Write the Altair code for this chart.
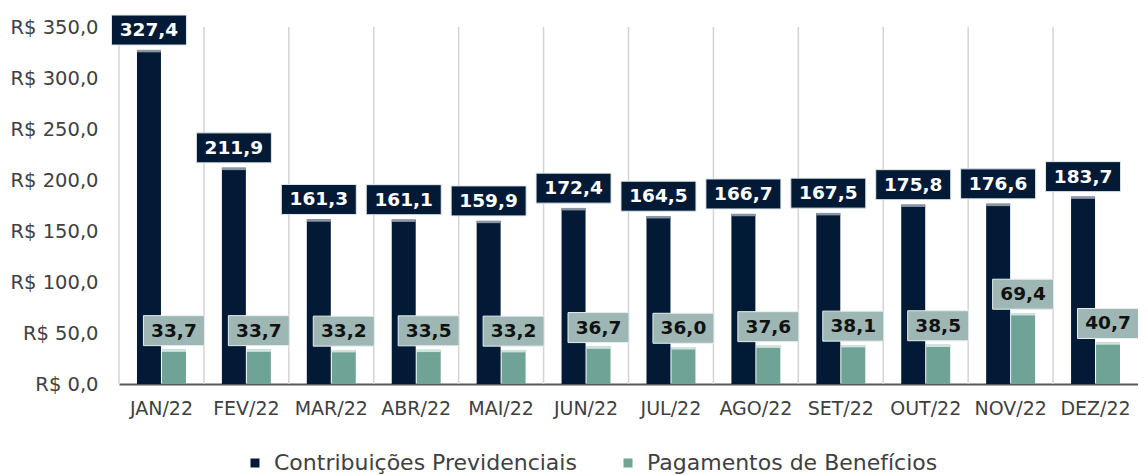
import altair as alt
import pandas as pd

months = ["JAN/22", "FEV/22", "MAR/22", "ABR/22", "MAI/22", "JUN/22",
          "JUL/22", "AGO/22", "SET/22", "OUT/22", "NOV/22", "DEZ/22"]
series = ["Contribuições Previdenciais", "Pagamentos de Benefícios"]
contrib = [327.4, 211.9, 161.3, 161.1, 159.9, 172.4, 164.5, 166.7, 167.5, 175.8, 176.6, 183.7]
payments = [33.7, 33.7, 33.2, 33.5, 33.2, 36.7, 36.0, 37.6, 38.1, 38.5, 69.4, 40.7]
y_ticks = [0, 50, 100, 150, 200, 250, 300, 350]

NAVY = "#031a36"
TEAL = "#6ea396"
TEAL_BOX = "#9eb7b4"
FONT = "DejaVu Sans"

rows = []
for m, c, p in zip(months, contrib, payments):
    rows.append({"month": m, "series": series[0], "value": c})
    rows.append({"month": m, "series": series[1], "value": p})
df = pd.DataFrame(rows)

W, H = 1019, 357
STEP = W / len(months)

x_axis = alt.Axis(title=None, labelAngle=0, labelAlign="center", labelBaseline="top",
                  ticks=False, grid=False, domain=True,
                  domainColor="#595959", domainWidth=2, labelFont=FONT,
                  labelFontSize=19, labelColor="#404040", labelPadding=15)
x = alt.X("month:N", sort=months, scale=alt.Scale(paddingInner=0, paddingOuter=0),
          axis=x_axis)
xo = alt.XOffset("series:N", sort=series,
                 scale=alt.Scale(paddingInner=0.04, paddingOuter=0.72))
y = alt.Y("value:Q", scale=alt.Scale(domain=[0, 350], nice=False),
          axis=alt.Axis(title=None, values=y_ticks, grid=False, ticks=False, domain=False,
                        labelFont=FONT, labelFontSize=19.5, labelColor="#404040",
                        labelPadding=21,
                        labelExpr="'R$ ' + replace(format(datum.value, '.1f'), '.', ',')"))

base = alt.Chart(df).transform_calculate(
    label="replace(format(datum.value, '.1f'), '.', ',')"
)

grid = alt.Chart(pd.DataFrame({"month": months})).mark_rule(
    color="#d4d4d4", strokeWidth=1.5, xOffset=-STEP / 2
).encode(
    x=alt.X("month:N", sort=months, axis=x_axis),
    y=alt.value(0), y2=alt.value(H)
)

bars = base.mark_bar().encode(
    x=x, xOffset=xo, y=y,
    color=alt.Color("series:N", sort=series,
                    scale=alt.Scale(domain=series, range=[NAVY, TEAL]),
                    legend=alt.Legend(title=None, orient="none", legendX=125, legendY=425,
                                      direction="horizontal", symbolType="square",
                                      symbolSize=81, symbolStrokeWidth=0,
                                      labelFont=FONT, labelFontSize=22,
                                      labelColor="#404040", columnPadding=40,
                                      labelOffset=8, labelLimit=500))
)

top_navy = base.transform_filter(alt.datum.series == series[0]).mark_tick(
    size=24, thickness=2.5, color="#8a95a4", yOffset=1, opacity=1
).encode(x=x, xOffset=xo, y=y)
top_teal = base.transform_filter(alt.datum.series == series[1]).mark_tick(
    size=24, thickness=2.5, color="#cfe3de", yOffset=1, opacity=1
).encode(x=x, xOffset=xo, y=y)

box_navy = base.transform_filter(alt.datum.series == series[0]).mark_tick(
    size=75, thickness=30, color=NAVY, stroke="#dfe8ea", strokeWidth=1,
    yOffset=-20, opacity=1
).encode(x=x, xOffset=xo, y=y)
text_navy = base.transform_filter(alt.datum.series == series[0]).mark_text(
    font=FONT, fontSize=18.5, fontWeight="bold", color="white",
    baseline="middle", align="center", dy=-20
).encode(x=x, xOffset=xo, y=y, text="label:N")

box_teal = base.transform_filter(alt.datum.series == series[1]).mark_tick(
    size=61, thickness=30, color=TEAL_BOX, stroke="#e6eeee", strokeWidth=1,
    yOffset=-19, opacity=1
).encode(x=x, xOffset=xo, y=y)
text_teal = base.transform_filter(alt.datum.series == series[1]).mark_text(
    font=FONT, fontSize=18.5, fontWeight="bold", color="#111111",
    baseline="middle", align="center", dy=-19
).encode(x=x, xOffset=xo, y=y, text="label:N")

chart = alt.layer(
    grid, bars, top_navy, top_teal, box_teal, text_teal, box_navy, text_navy
).properties(
    width=W, height=H,
    autosize=alt.AutoSizeParams(type="none"),
    padding={"left": 111, "top": 19, "right": 0, "bottom": 95},
    background="white"
).configure_view(stroke=None)

chart.save("out.html", embed_options={"renderer": "svg", "actions": False})
